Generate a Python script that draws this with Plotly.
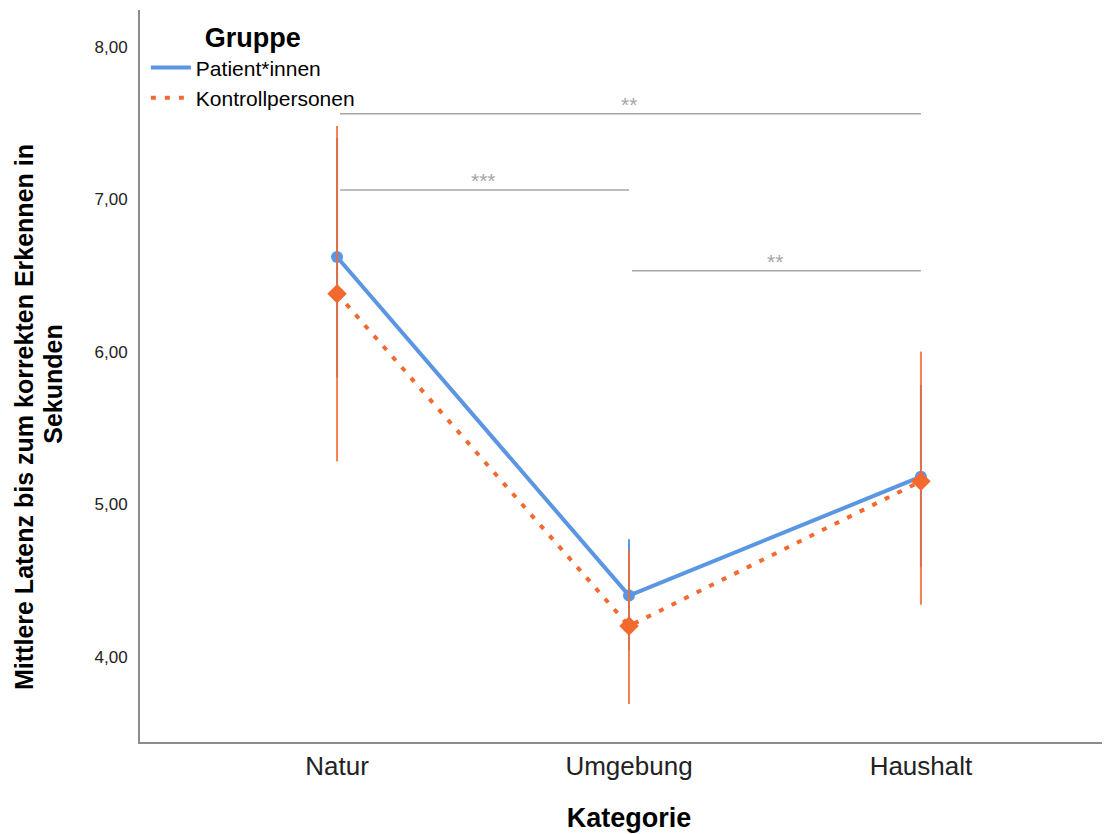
import plotly.graph_objects as go

categories = ["Natur", "Umgebung", "Haushalt"]
patient_mean = [6.62, 4.40, 5.18]
patient_upper = [7.40, 4.77, 5.78]
patient_lower = [5.83, 4.04, 4.59]
kontroll_mean = [6.38, 4.20, 5.15]
kontroll_upper = [7.48, 4.70, 6.00]
kontroll_lower = [5.28, 3.69, 4.34]
y_ticks = [4, 5, 6, 7, 8]
y_tick_labels = ["4,00", "5,00", "6,00", "7,00", "8,00"]
# significance brackets: (start category index, end category index, level, label)
brackets = [(0, 2, 7.56, "**"), (0, 1, 7.06, "***"), (1, 2, 6.53, "**")]

BLUE = "#5b96e2"
ORANGE = "#f26a30"
FONT = "Arial, Liberation Sans, sans-serif"

xi = list(range(len(categories)))

fig = go.Figure()
fig.add_trace(go.Scatter(
    x=xi, y=patient_mean, mode="lines+markers",
    line=dict(color=BLUE, width=4),
    marker=dict(symbol="circle", size=12, color=BLUE),
    error_y=dict(type="data", symmetric=False,
                 array=[u - m for u, m in zip(patient_upper, patient_mean)],
                 arrayminus=[m - l for m, l in zip(patient_mean, patient_lower)],
                 color=BLUE, thickness=2, width=0),
    showlegend=False))
fig.add_trace(go.Scatter(
    x=xi, y=kontroll_mean, mode="lines+markers",
    line=dict(color=ORANGE, width=4, dash="5px,9px"),
    marker=dict(symbol="diamond", size=15, color=ORANGE),
    error_y=dict(type="data", symmetric=False,
                 array=[u - m for u, m in zip(kontroll_upper, kontroll_mean)],
                 arrayminus=[m - l for m, l in zip(kontroll_mean, kontroll_lower)],
                 color="rgba(242,106,48,0.85)", thickness=2, width=0),
    showlegend=False))

# legend entries (lines only)
fig.add_trace(go.Scatter(x=[None], y=[None], mode="lines", name="Patient*innen",
                         line=dict(color=BLUE, width=4)))
fig.add_trace(go.Scatter(x=[None], y=[None], mode="lines", name="Kontrollpersonen",
                         line=dict(color=ORANGE, width=4, dash="5px,9px")))

for a, b, lvl, lab in brackets:
    fig.add_shape(type="line", x0=xi[a] + 0.01, x1=xi[b], y0=lvl, y1=lvl,
                  xref="x", yref="y", line=dict(color="#a6a6a6", width=1.5))
    fig.add_annotation(x=(xi[a] + xi[b]) / 2, y=lvl, text=lab, showarrow=False,
                       yanchor="bottom", yshift=-4,
                       font=dict(family=FONT, size=21, color="#a6a6a6"))

fig.add_annotation(xref="paper", yref="paper", x=0, xshift=-116, y=0.444,
                   text="<b>Mittlere Latenz bis zum korrekten Erkennen in</b>",
                   textangle=-90, showarrow=False, xanchor="center", yanchor="middle",
                   font=dict(family=FONT, size=25, color="black"))
fig.add_annotation(xref="paper", yref="paper", x=0, xshift=-87, y=0.488,
                   text="<b>Sekunden</b>",
                   textangle=-90, showarrow=False, xanchor="center", yanchor="middle",
                   font=dict(family=FONT, size=25, color="black"))

fig.update_layout(
    width=1110, height=834,
    margin=dict(l=132, r=0, t=2, b=100),
    plot_bgcolor="white", paper_bgcolor="white",
    font=dict(family=FONT, color="black"),
    legend=dict(x=0.006, y=0.997, xanchor="left", yanchor="top",
                title=dict(text="<b>Gruppe</b>", side="top center",
                           font=dict(family=FONT, size=27, color="black")),
                font=dict(family=FONT, size=21, color="black"),
                bgcolor="rgba(0,0,0,0)", tracegroupgap=0, itemwidth=40),
    xaxis=dict(range=[-0.675, 2.675], tickvals=xi, ticktext=categories,
               showgrid=False, zeroline=False, showline=True, linecolor="#8c8c8c",
               linewidth=2, ticks="", tickfont=dict(size=26, color="#222"),
               title=dict(text="<b>Kategorie</b>", font=dict(size=27, color="black"),
                          standoff=28)),
    yaxis=dict(range=[3.44, 8.24], tickvals=y_ticks, ticktext=y_tick_labels,
               showgrid=False, zeroline=False, showline=True, linecolor="#8c8c8c",
               linewidth=2, ticks="", ticklabelstandoff=7,
               tickfont=dict(size=17, color="#222")),
)

fig.write_html("out.html")
